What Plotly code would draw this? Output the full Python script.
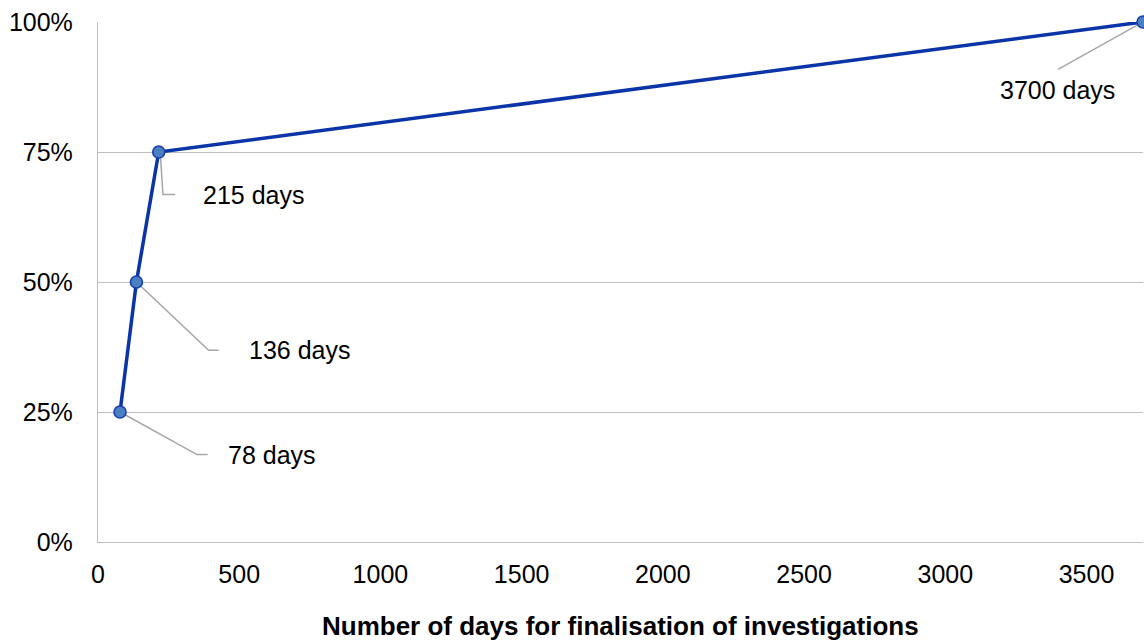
import plotly.graph_objects as go

# Cumulative share of finalised investigations vs. number of days
days = [78, 136, 215, 3700]
share = [0.25, 0.50, 0.75, 1.00]
label_suffix = " days"

x_ticks = [0, 500, 1000, 1500, 2000, 2500, 3000, 3500]
y_ticks = [0, 0.25, 0.50, 0.75, 1.00]
y_tick_text = ["0%", "25%", "50%", "75%", "100%"]

# Leader-line geometry (pixel offsets from each point) and label placement
leader_paths = [
    "M0,0 L77,-42.6 L87.6,-42.6",
    "M0,0 L72.2,-68.3 L82.2,-68.3",
    "M1.5,0 L4.2,-42.6 L16.5,-42.6",
    "M0,0 L-85,-47.3",
]
label_shift = [(106, -43, "left"), (111, -68, "left"), (42, -43, "left"), (-86, -68, "center")]

FONT = "Liberation Sans, Arial, sans-serif"
GRID = "#bfbfbf"
LEADER = "#a6a6a6"

fig = go.Figure()
fig.add_trace(go.Scatter(
    x=days, y=share, mode="lines+markers",
    line=dict(color="#0a34a8", width=3.5),
    marker=dict(size=12, color="#4a7fc1", line=dict(color="#1a3fb0", width=1.6)),
    cliponaxis=False, hoverinfo="skip", showlegend=False,
))

shapes = []
annotations = []
for d, s, path, (dx, dy, anchor) in zip(days, share, leader_paths, label_shift):
    shapes.append(dict(
        type="path", xref="x", yref="y", xsizemode="pixel", ysizemode="pixel",
        xanchor=d, yanchor=s, path=path, layer="below",
        line=dict(color=LEADER, width=1.5),
    ))
    annotations.append(dict(
        x=d, y=s, xref="x", yref="y", text=f"{d}{label_suffix}", showarrow=False,
        xanchor=anchor, yanchor="middle", xshift=dx, yshift=dy,
        font=dict(family=FONT, size=25, color="#000000"),
    ))

annotations.append(dict(
    x=0.5, y=0, xref="paper", yref="paper", yanchor="middle", yshift=-84,
    text="<b>Number of days for finalisation of investigations</b>", showarrow=False,
    borderpad=0,
    font=dict(family=FONT, size=26, color="#000000"),
))

fig.update_layout(
    width=1144, height=642,
    margin=dict(l=98, r=1, t=22, b=100),
    paper_bgcolor="white", plot_bgcolor="white",
    font=dict(family=FONT, size=25, color="#000000"),
    shapes=shapes, annotations=annotations,
    xaxis=dict(
        range=[0, 3700], tickvals=x_ticks, showgrid=False, zeroline=False,
        showline=True, linecolor=GRID, linewidth=1.3, ticks="",
        ticklabelstandoff=10, tickfont=dict(family=FONT, size=25, color="#000000"),
    ),
    yaxis=dict(
        range=[0, 1], tickvals=y_ticks, ticktext=y_tick_text, showgrid=True,
        gridcolor=GRID, gridwidth=1.3, zeroline=False,
        showline=True, linecolor=GRID, linewidth=1.3, ticks="",
        ticklabelstandoff=19, tickfont=dict(family=FONT, size=25, color="#000000"),
    ),
)

fig.write_html("out.html")
